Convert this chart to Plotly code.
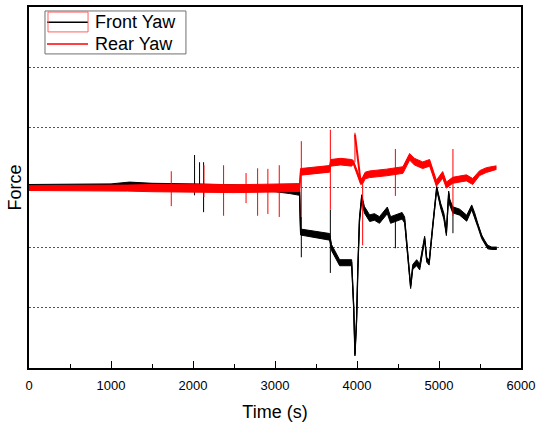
import plotly.graph_objects as go

# Front yaw force trace (time in s, force in relative units)
front_t = [0, 500, 1000, 1226, 1348, 1500, 2000, 2500, 3000, 3178, 3300,
           3312, 3500, 3666, 3690, 3788, 3935, 3960, 3975, 3995, 4010, 4030,
           4057, 4090, 4154, 4213, 4274, 4330, 4370, 4410, 4500, 4550, 4581,
           4605, 4630, 4654, 4680, 4728, 4765, 4801, 4825, 4850, 4880, 4923,
           4972, 5020, 5060, 5090, 5118, 5130, 5167, 5252, 5338, 5399, 5435,
           5472, 5521, 5557, 5594, 5643, 5704]
front_y = [3.02, 3.02, 3.03, 3.05, 3.04, 3.03, 3.02, 3.00, 2.98, 2.95, 2.92,
           2.26, 2.22, 2.18, 2.00, 1.75, 1.75, 1.00, 0.22, 0.80, 1.63, 2.46,
           2.83, 2.63, 2.49, 2.51, 2.46, 2.56, 2.62, 2.46, 2.51, 2.53, 2.46,
           2.13, 1.68, 1.35, 1.68, 1.75, 1.68, 2.01, 2.16, 1.80, 1.75, 2.35,
           2.99, 2.70, 2.52, 2.24, 2.91, 2.76, 2.63, 2.59, 2.49, 2.67, 2.54,
           2.38, 2.18, 2.09, 2.01, 1.99, 1.99]
# half-width of the measurement noise band around each front yaw point
front_noise = [0.03, 0.03, 0.03, 0.04, 0.04, 0.04, 0.04, 0.04, 0.05, 0.05, 0.05,
               0.05, 0.055, 0.055, 0.05, 0.05, 0.05, 0.03, 0.02, 0.03, 0.03, 0.04,
               0.05, 0.055, 0.055, 0.055, 0.055, 0.055, 0.055, 0.055, 0.055,
               0.055, 0.05, 0.04, 0.03, 0.03, 0.04, 0.05, 0.05, 0.04, 0.03,
               0.04, 0.04, 0.03, 0.03, 0.04, 0.05, 0.04, 0.03, 0.05, 0.05,
               0.05, 0.05, 0.04, 0.04, 0.03, 0.03, 0.03, 0.03, 0.02, 0.02]

# Rear yaw force trace
rear_t = [0, 1000, 1200, 1500, 2000, 2500, 3000, 3300, 3312, 3500, 3666, 3680,
          3800, 3935, 3955, 4045, 4070, 4100, 4154, 4360, 4480, 4560, 4642,
          4700, 4801, 4886, 4968, 5045, 5090, 5167, 5334, 5411, 5496, 5578,
          5700]
rear_y = [2.99, 2.99, 2.99, 2.99, 2.99, 2.98, 2.99, 3.00, 3.26, 3.28, 3.31,
          3.41, 3.43, 3.41, 3.42, 3.09, 3.12, 3.20, 3.22, 3.25, 3.27, 3.29,
          3.51, 3.43, 3.37, 3.41, 3.07, 3.21, 3.04, 3.12, 3.16, 3.10, 3.24,
          3.29, 3.33]
rear_noise = [0.04, 0.04, 0.05, 0.06, 0.065, 0.065, 0.065, 0.065, 0.055, 0.055,
              0.055, 0.055, 0.055, 0.055, 0.03, 0.04, 0.055, 0.055, 0.055, 0.055,
              0.055, 0.055, 0.055, 0.055, 0.055, 0.055, 0.05, 0.055, 0.05, 0.05,
              0.05, 0.05, 0.04, 0.04, 0.03]

# Short transient spikes: time, lower and upper force
front_spike_t = [2019, 2080, 2129, 3321, 3675, 4468, 5170]
front_spike_lo = [2.87, 3.00, 2.59, 1.84, 1.58, 1.99, 2.24]
front_spike_hi = [3.54, 3.42, 3.42, 2.51, 2.63, 2.50, 2.67]

rear_spike_t = [1735, 2133, 2373, 2647, 2788, 2913, 3052, 3321, 3675, 3975,
                4069, 4468, 5170]
rear_spike_lo = [2.69, 2.84, 2.53, 2.74, 2.53, 2.56, 2.51, 2.51, 2.63, 3.42,
                 2.04, 2.86, 2.53]
rear_spike_hi = [3.27, 3.37, 3.37, 3.24, 3.32, 3.31, 3.37, 3.77, 3.96, 3.91,
                 3.16, 3.64, 3.64]

# fast release after the rear yaw peak near 4000 s
rear_release_t = [3975, 4045]
rear_release_y = [3.88, 3.09]

x_ticks = [0, 1000, 2000, 3000, 4000, 5000, 6000]
grid_levels = [1, 2, 3, 4, 5]
legend_names = ["Front Yaw", "Rear Yaw"]

BLACK = "#000000"
RED = "#ff0000"
FONT = "Arial, Liberation Sans, sans-serif"


def spike_path(ts, lo, hi):
    xs, ys = [], []
    for t, a, b in zip(ts, lo, hi):
        xs += [t, t, None]
        ys += [a, b, None]
    return xs, ys


def add_band(fig, ts, ys, noise, color):
    upper = [y + a for y, a in zip(ys, noise)]
    lower = [y - a for y, a in zip(ys, noise)]
    fig.add_trace(go.Scatter(x=ts, y=upper, mode="lines", showlegend=False,
                             hoverinfo="skip", line=dict(color=color, width=1)))
    fig.add_trace(go.Scatter(x=ts, y=lower, mode="lines", showlegend=False,
                             fill="tonexty", fillcolor=color, hoverinfo="skip",
                             line=dict(color=color, width=1)))
    fig.add_trace(go.Scatter(x=ts, y=ys, mode="lines", showlegend=False,
                             line=dict(color=color, width=1.3)))


fig = go.Figure()
add_band(fig, front_t, front_y, front_noise, BLACK)
fx, fy = spike_path(front_spike_t, front_spike_lo, front_spike_hi)
fig.add_trace(go.Scatter(x=fx, y=fy, mode="lines", showlegend=False,
                         line=dict(color=BLACK, width=1)))

add_band(fig, rear_t, rear_y, rear_noise, RED)
rx, ry = spike_path(rear_spike_t, rear_spike_lo, rear_spike_hi)
fig.add_trace(go.Scatter(x=rx, y=ry, mode="lines", showlegend=False,
                         line=dict(color=RED, width=1)))
fig.add_trace(go.Scatter(x=rear_release_t, y=rear_release_y, mode="lines",
                         showlegend=False, line=dict(color=RED, width=2)))

fig.update_layout(
    width=539, height=422,
    margin=dict(l=29, r=18, t=7, b=54),
    paper_bgcolor="white", plot_bgcolor="white",
    font=dict(family=FONT, color="black"),
    showlegend=False,
    xaxis=dict(
        range=[0, 6000], tickvals=x_ticks, ticks="inside", ticklen=7,
        tickwidth=1.2, tickcolor="black", ticklabelstandoff=5,
        minor=dict(dtick=500, ticks="inside", ticklen=4, tickcolor="black",
                   tickwidth=1.2, showgrid=False),
        showgrid=False, zeroline=False, automargin=False,
        showline=True, linecolor="black", linewidth=1.6, mirror=True,
        tickfont=dict(size=13, family=FONT),
        title=dict(text="Time (s)", font=dict(size=18, family=FONT),
                   standoff=14),
    ),
    yaxis=dict(
        range=[0, 6], tickvals=grid_levels, showticklabels=False, ticks="",
        showgrid=True, gridcolor="#555555", gridwidth=1, griddash="2px,2px",
        zeroline=False, automargin=False,
        showline=True, linecolor="black", linewidth=1.6, mirror=True,
        title=dict(text="Force", font=dict(size=18, family=FONT), standoff=1),
    ),
)

# Legend box in the top-left corner of the plot area
fig.add_shape(type="rect", xref="paper", yref="paper",
              x0=0.0325, x1=0.319, y0=0.870, y1=0.989,
              line=dict(color="#707070", width=1), fillcolor="white",
              layer="above")
legend_colors = [BLACK, RED]
legend_rows = [0.958, 0.8975]
for name, color, yr in zip(legend_names, legend_colors, legend_rows):
    fig.add_shape(type="line", xref="paper", yref="paper",
                  x0=0.0366, x1=0.12, y0=yr, y1=yr,
                  line=dict(color=color, width=1.5), layer="above")
    fig.add_annotation(x=0.130, y=yr, xref="paper", yref="paper",
                       text=name, showarrow=False, xanchor="left",
                       yanchor="middle",
                       font=dict(size=18, family=FONT, color="black"))
# highlight frame around the first legend sample
fig.add_shape(type="rect", xref="paper", yref="paper",
              x0=0.0386, x1=0.12, y0=0.931, y1=0.986,
              line=dict(color="#ff6060", width=1), layer="above")

fig.write_html("out.html")
